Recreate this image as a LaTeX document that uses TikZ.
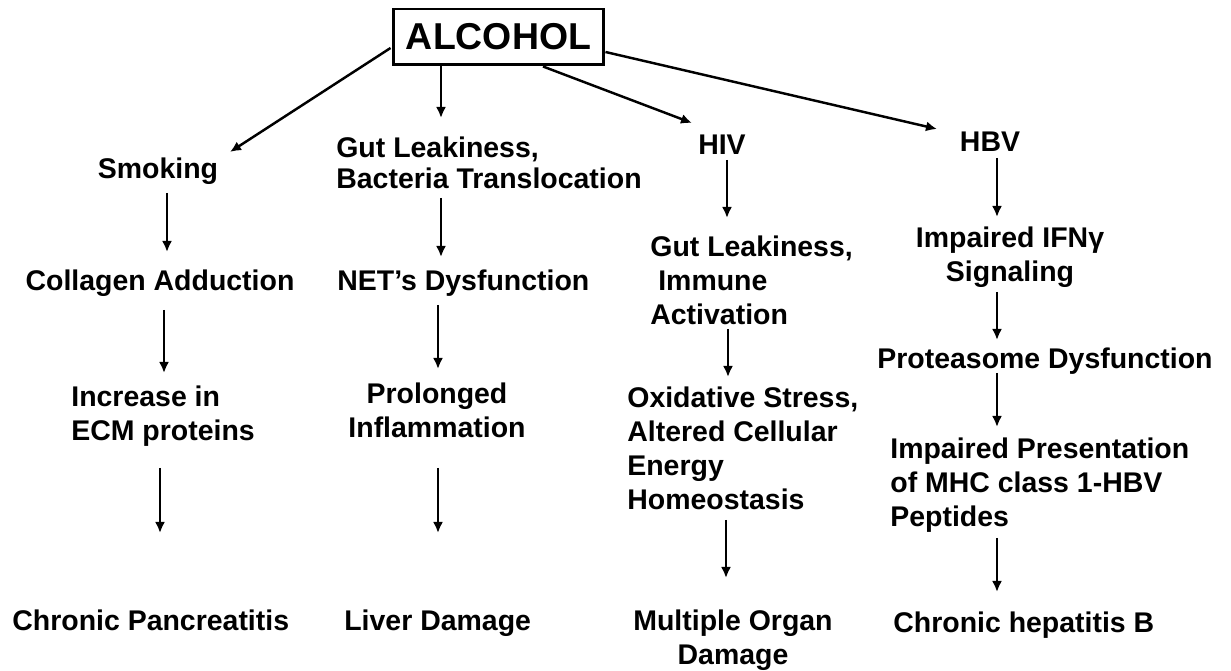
\documentclass[tikz,border=0pt]{standalone}
\usepackage{fontspec}
\setmainfont{Liberation Sans}
\usetikzlibrary{arrows.meta, calc}

\begin{document}
\begin{tikzpicture}[
  x=0.02cm, y=-0.02cm,
  root/.style = {draw, line width=1.7pt, inner sep=0pt, minimum width=4.22cm, minimum height=1.12cm,
                 font=\bfseries\fontsize{21.3}{24}\selectfont},
  txt/.style = {inner sep=0pt, font=\bfseries\fontsize{16.2}{19.3}\selectfont},
  flow/.style = {-{Latex[length=0.22cm, width=0.2cm]}, line width=1.4pt}
]

% Frame
\useasboundingbox (0,0) rectangle (1231,671);

% Root
\node[root] (alcohol) at (498.5,37) {ALCOHOL};

% First row
\node[txt, anchor=north] (smoking) at (158,158) {Smoking};
\node[txt, anchor=north west, align=left] (gutbt) at (336,137) {Gut Leakiness,\\[-0.06cm]Bacteria Translocation};
\node[txt, anchor=north] (hiv) at (722,135) {HIV};
\node[txt, anchor=north] (hbv) at (990,132) {HBV};

% Second row
\node[txt, anchor=north] (collagen) at (160,270) {Collagen Adduction};
\node[txt, anchor=north west] (net) at (337,270) {NET’s Dysfunction};
\node[txt, anchor=north west, align=left] (gutimm) at (650,236) {Gut Leakiness,\\\hspace*{0.28em}Immune\\Activation};
\node[txt, anchor=north, align=center] (ifn) at (1010,227) {Impaired IFNγ\\Signaling};

% Third row
\node[txt, anchor=north west, align=left] (increase) at (71,386) {Increase in\\ECM proteins};
\node[txt, anchor=north, align=center] (prolonged) at (437,383) {Prolonged\\Inflammation};
\node[txt, anchor=north west, align=left] (oxid) at (627,387) {Oxidative Stress,\\Altered Cellular\\Energy\\Homeostasis};
\node[txt, anchor=north west] (prot) at (877,348) {Proteasome Dysfunction};
\node[txt, anchor=north west, align=left] (mhc) at (890,438) {Impaired Presentation\\of MHC class 1-HBV\\Peptides};

% Outcomes
\node[txt, anchor=north west] (pancreatitis) at (12,610) {Chronic Pancreatitis};
\node[txt, anchor=north west] (liver) at (344,610) {Liver Damage};
\node[txt, anchor=north, align=center] (organ) at (733,610) {Multiple Organ\\Damage};
\node[txt, anchor=north west] (hepb) at (893,612) {Chronic hepatitis B};

% Branches from the root
\draw[flow] ($(alcohol.west)+(-1,11)$) -- ($(smoking.north)+(72,-6)$);
\draw[flow] ($(alcohol.south)+(-57.5,0)$) -- ($(gutbt.north west)+(105,-19)$);
\draw[flow] ($(alcohol.south)+(44.5,0)$) -- ($(hiv.north)+(-30,-12)$);
\draw[flow] ($(alcohol.east)+(0,15)$) -- ($(hbv.north)+(-53,-3)$);

% Smoking column
\draw[flow] ($(smoking.north)+(9,35)$) -- ($(collagen.north)+(7,-18)$);
\draw[flow] ($(collagen.north)+(4,40)$) -- ($(increase.north west)+(93,-13)$);
\draw[flow] ($(increase.north west)+(89,82)$) -- ($(pancreatitis.north west)+(148,-77)$);

% Gut column
\draw[flow] ($(gutbt.north west)+(105,61)$) -- ($(net.north west)+(104,-13)$);
\draw[flow] ($(net.north west)+(101,35)$) -- ($(prolonged.north)+(1,-14)$);
\draw[flow] ($(prolonged.north)+(1,85)$) -- ($(liver.north west)+(94,-77)$);

% HIV column
\draw[flow] ($(hiv.north)+(5,25)$) -- ($(gutimm.north west)+(77,-18)$);
\draw[flow] ($(gutimm.north west)+(78,93)$) -- ($(oxid.north west)+(101,-10)$);
\draw[flow] ($(oxid.north west)+(99,133)$) -- ($(organ.north)+(-7,-32)$);

% HBV column
\draw[flow] ($(hbv.north)+(7,26)$) -- ($(ifn.north)+(-13,-10)$);
\draw[flow] ($(ifn.north)+(-13,65)$) -- ($(prot.north west)+(120,-8)$);
\draw[flow] ($(prot.north west)+(120,25)$) -- ($(mhc.north west)+(107,-11)$);
\draw[flow] ($(mhc.north west)+(107,100)$) -- ($(hepb.north west)+(104,-20)$);

\end{tikzpicture}
\end{document}
